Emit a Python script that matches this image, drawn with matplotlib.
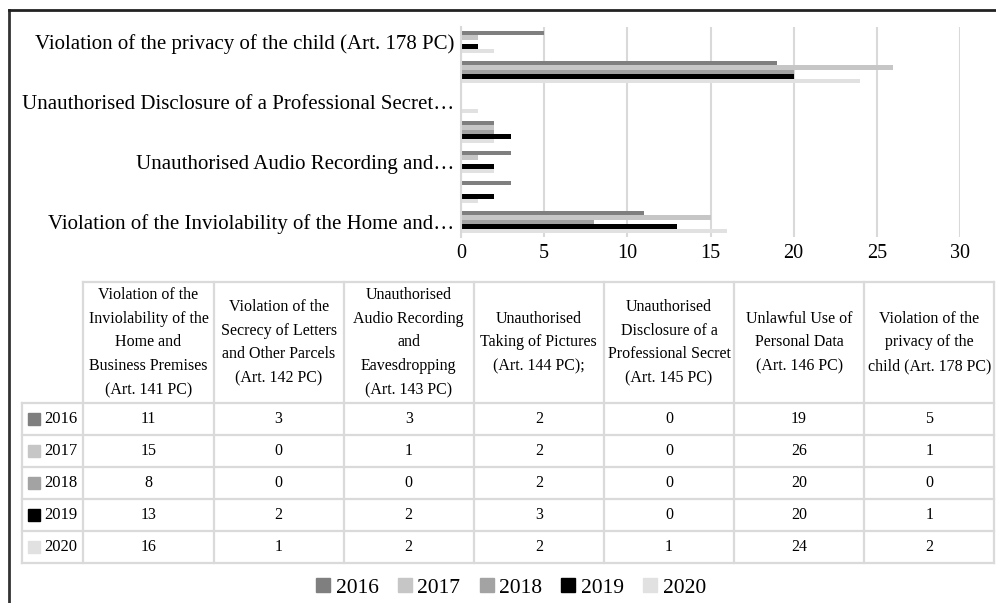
import numpy as np
import matplotlib.pyplot as plt
from matplotlib.patches import Patch
from matplotlib.lines import Line2D

plt.rcParams['font.family'] = ['Liberation Serif', 'DejaVu Serif']

years = ["2016", "2017", "2018", "2019", "2020"]
colors = ["#7f7f7f", "#c6c6c6", "#a3a3a3", "#000000", "#e1e1e1"]

offences = [
    "Violation of the\nInviolability of the\nHome and\nBusiness Premises\n(Art. 141 PC)",
    "Violation of the\nSecrecy of Letters\nand Other Parcels\n(Art. 142 PC)",
    "Unauthorised\nAudio Recording\nand\nEavesdropping\n(Art. 143 PC)",
    "Unauthorised\nTaking of Pictures\n(Art. 144 PC);",
    "Unauthorised\nDisclosure of a\nProfessional Secret\n(Art. 145 PC)",
    "Unlawful Use of\nPersonal Data\n(Art. 146 PC)",
    "Violation of the\nprivacy of the\nchild (Art. 178 PC)",
]

# shortened names on the bar axis, only every second one is shown
axis_labels = [
    "Violation of the Inviolability of the Home and…",
    "",
    "Unauthorised Audio Recording and…",
    "",
    "Unauthorised Disclosure of a Professional Secret…",
    "",
    "Violation of the privacy of the child (Art. 178 PC)",
]

c2016 = [11, 3, 3, 2, 0, 19, 5]
c2017 = [15, 0, 1, 2, 0, 26, 1]
c2018 = [8, 0, 0, 2, 0, 20, 0]
c2019 = [13, 2, 2, 3, 0, 20, 1]
c2020 = [16, 1, 2, 2, 1, 24, 2]
counts = [c2016, c2017, c2018, c2019, c2020]

W, H = 996, 603
fig = plt.figure(figsize=(W / 100, H / 100), dpi=100)

# --- bar chart ---
ax = fig.add_axes([461 / W, 1 - 237 / H, (960 - 461) / W, (237 - 27) / H])
pos = np.arange(len(offences))
bh = 0.145
for k, (yr, vals) in enumerate(zip(years, counts)):
    ax.barh(pos + (2 - k) * bh, vals, height=bh, color=colors[k], label=yr)

ax.set_xlim(0, 30)
ax.set_ylim(-0.5, 6.5)
ax.set_xticks(range(0, 31, 5))
ax.set_yticks(pos)
ax.set_yticklabels(axis_labels)
ax.tick_params(axis='x', length=0, pad=5, labelsize=14.5)
ax.tick_params(axis='y', length=0, pad=5, labelsize=15)
ax.grid(axis='x', color='#d9d9d9', lw=1.5)
ax.set_axisbelow(True)
for s in ['top', 'right', 'bottom']:
    ax.spines[s].set_visible(False)
ax.spines['left'].set_color('#d9d9d9')
ax.spines['left'].set_linewidth(1.5)

# --- data table ---
tax = fig.add_axes([21.7 / W, 1 - 563.3 / H, (994.3 - 21.7) / W, (563.3 - 281.7) / H])
rh = 0.474    # width of the row header column, in column units
hdr = 3.8     # height of the header row, in data-row units
nrow = len(years)
ncol = len(offences)
tax.set_xlim(-rh, ncol)
tax.set_ylim(hdr + nrow, 0)
tax.axis('off')

grid = dict(color='#dadada', lw=1.6, clip_on=False, solid_capstyle='projecting')
for j in range(ncol + 1):
    tax.plot([j, j], [0, hdr + nrow], **grid)
tax.plot([-rh, -rh], [hdr, hdr + nrow], **grid)
tax.plot([0, ncol], [0, 0], **grid)
for r in range(nrow + 1):
    tax.plot([-rh, ncol], [hdr + r, hdr + r], **grid)

for j, name in enumerate(offences):
    tax.text(j + 0.5, hdr / 2, name, ha='center', va='center',
             multialignment='center', fontsize=11.5, linespacing=1.65)

for r, (yr, vals) in enumerate(zip(years, counts)):
    yc = hdr + r + 0.5
    tax.plot(-rh + 12.3 / 130, yc, marker='s', ms=8.5, color=colors[r],
             mec=colors[r], clip_on=False)
    tax.text(-rh + 22.3 / 130, yc, yr, ha='left', va='center', fontsize=12)
    for j, v in enumerate(vals):
        tax.text(j + 0.5, yc, str(v), ha='center', va='center', fontsize=11.5)

# --- legend ---
handles = [Patch(facecolor=c, edgecolor=c) for c in colors]
fig.legend(handles, years, ncol=5, loc='center', bbox_to_anchor=(511 / W, 1 - 588 / H),
           frameon=False, fontsize=15.5, handlelength=0.65, handleheight=0.65,
           handletextpad=0.25, columnspacing=0.9)

# chart frame
fig.add_artist(Line2D([8.5 / W, 8.5 / W], [0, 1 - 9.5 / H], color='#333333', lw=2,
                      transform=fig.transFigure))
fig.add_artist(Line2D([8.5 / W, 1], [1 - 9.5 / H, 1 - 9.5 / H], color='#222222', lw=2,
                      transform=fig.transFigure))

fig.savefig("out.png", dpi=100)
